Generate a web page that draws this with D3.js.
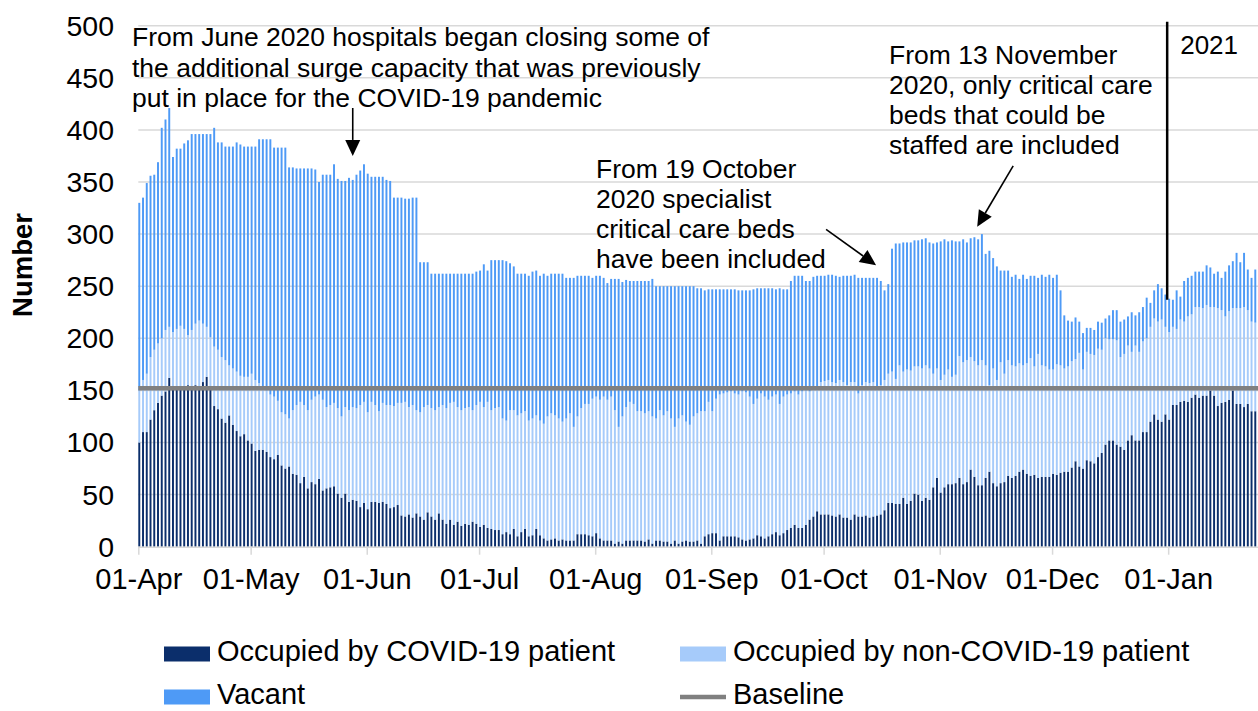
<!DOCTYPE html>
<html><head><meta charset="utf-8">
<script src="https://cdn.jsdelivr.net/npm/d3@7"></script>
<style>
body{margin:0;background:#fff}
text{font-family:"Liberation Sans",Arial,sans-serif;fill:#000}
</style>
</head><body>
<svg id="chart" width="1258" height="711"></svg>
<script>
// ---------------- DATA ----------------
const startDate = new Date(Date.UTC(2020, 3, 1)); // 01-Apr-2020, one bar per day

const covidOccupied = [
100,110,110,122,131,138,145,149,162,152,
153,154,152,155,153,155,154,158,163,151,
135,132,123,119,126,117,111,106,108,102,
99,92,93,93,91,86,84,88,78,75,
77,70,69,61,67,56,62,60,65,54,
56,57,58,51,47,51,43,45,44,38,
42,36,43,43,42,43,41,37,38,40,
30,29,31,28,32,29,26,33,29,26,
32,26,22,26,21,24,20,22,21,24,
22,19,21,18,17,16,16,12,14,12,
17,10,14,17,10,11,17,11,8,6,
7,8,6,7,6,6,6,12,12,12,
11,10,13,8,6,6,6,3,5,3,
6,6,6,6,6,5,7,3,6,6,
5,5,3,6,3,5,6,5,5,6,
3,10,12,13,13,6,10,10,10,10,
9,7,6,7,8,11,10,8,10,12,
14,11,13,16,18,21,18,18,21,26,
29,34,31,31,31,30,29,31,28,28,
26,31,29,29,30,28,29,30,31,35,
42,42,41,41,47,41,44,51,50,44,
47,45,57,66,52,57,60,60,61,66,
60,62,74,67,59,59,66,72,61,58,
61,62,68,66,68,72,74,70,68,69,
66,67,67,67,70,69,71,72,72,76,
82,77,75,83,82,80,86,90,98,102,
102,98,96,93,102,107,102,102,110,110,
120,127,122,120,127,122,136,136,139,140,
139,143,146,143,145,145,150,145,135,138,
139,141,150,137,137,134,137,130,130,138
];

// all occupied beds (COVID + non-COVID)
const allOccupied = [
150,160,166,182,189,195,200,208,211,206,
209,212,209,203,208,214,217,214,211,201,
192,189,182,179,174,171,168,164,163,163,
166,160,157,152,150,146,144,140,129,127,
123,131,136,139,136,131,141,144,146,141,
134,136,138,133,125,134,131,134,133,136,
139,129,139,136,130,138,136,136,135,138,
138,139,134,136,131,129,134,136,133,131,
134,136,133,138,139,134,131,133,134,131,
136,139,134,139,131,133,134,123,121,131,
131,126,128,130,121,123,126,121,118,125,
128,126,123,120,123,128,115,125,133,137,
137,142,144,141,144,141,144,131,115,125,
134,139,137,130,130,128,130,125,123,131,
126,130,123,115,123,126,120,117,125,128,
130,130,139,130,142,146,147,148,149,147,
146,149,148,144,137,142,147,144,141,144,
146,137,144,146,147,149,146,149,150,149,
151,153,158,159,160,158,157,160,158,155,
158,158,147,155,158,157,158,153,155,160,
166,168,161,174,168,170,169,173,173,171,
174,171,166,171,160,165,170,163,165,183,
177,179,182,178,174,179,174,155,171,160,
177,166,179,174,173,176,174,176,181,173,
185,174,173,170,170,175,174,171,173,178,
180,186,170,187,185,184,190,189,200,199,
199,198,182,185,193,187,193,187,197,200,
211,219,216,218,211,206,211,209,218,216,
221,223,230,230,229,232,230,230,229,227,
221,226,229,229,229,230,227,216,215,217
];

// total critical care beds (occupied + vacant)
const totalBeds = [
330,335,349,356,357,369,402,410,421,374,
382,382,387,390,396,396,396,396,396,396,
402,388,388,384,384,384,388,386,384,384,
384,384,391,391,391,391,383,383,383,383,
364,364,363,363,363,363,363,362,350,357,
357,357,367,353,351,351,354,352,357,361,
367,358,355,355,355,355,352,351,335,335,
335,334,334,335,335,273,273,273,262,262,
262,262,262,262,262,262,262,262,262,262,
264,265,271,265,275,275,275,275,274,272,
269,262,262,262,260,264,265,260,262,260,
262,262,262,262,258,258,258,260,260,260,
260,258,260,260,258,253,257,257,257,254,
256,255,255,255,255,255,255,257,250,250,
250,250,250,250,250,250,250,250,250,248,
248,246,247,247,247,247,247,247,247,247,
246,246,246,246,247,248,248,248,248,248,
247,248,247,247,255,260,260,260,255,255,
259,260,260,260,261,261,260,259,260,260,
260,261,258,258,258,258,258,258,255,246,
252,286,291,291,292,292,292,294,294,295,
296,292,291,292,293,295,293,294,293,293,
295,292,296,297,295,300,281,284,277,269,
265,265,265,259,261,257,261,257,260,260,
258,261,259,261,258,261,246,222,217,216,
220,216,205,210,210,208,216,215,219,222,
227,227,216,218,221,225,222,225,230,239,
234,246,252,248,242,238,237,246,240,255,
258,260,264,264,264,270,268,262,264,258,
264,270,274,282,273,282,266,258,266,268
];

const baselineValue = 152;
const yTickValues = [0,50,100,150,200,250,300,350,400,450,500];
const monthTickLabels = ["01-Apr","01-May","01-Jun","01-Jul","01-Aug","01-Sep","01-Oct","01-Nov","01-Dec","01-Jan"];
const seriesKeys = ["covid","nonCovid","vacant"];
const seriesLabels = ["Occupied by COVID-19 patient","Occupied by non-COVID-19 patient","Vacant"];
const seriesColors = ["#0b2e6b","#a6cbfa","#4e9af6"];
const baselineLabel = "Baseline";
const yAxisTitle = "Number";
const yearLabel = "2021";
const annotations = [
  {lines:["From June 2020 hospitals began closing some of","the additional surge capacity that was previously","put in place for the COVID-19 pandemic"]},
  {lines:["From 19 October","2020 specialist","critical care beds","have been included"]},
  {lines:["From 13 November","2020, only critical care","beds that could be","staffed are included"]}
];

// ---------------- CHART ----------------
const N = covidOccupied.length;
const days = d3.utcDay.range(startDate, d3.utcDay.offset(startDate, N));
const rows = days.map((d,i)=>({
  date:d,
  covid:covidOccupied[i],
  nonCovid:allOccupied[i]-covidOccupied[i],
  vacant:totalBeds[i]-allOccupied[i]
}));

const svg = d3.select("#chart");
const left = 138.3, right = 1261.8;
const x = d3.scaleUtc().domain([startDate, d3.utcDay.offset(startDate, N)]).range([left, right]);
const step = (right-left)/N;
const bw = step*0.52;
const y = d3.scaleLinear().domain([0,500]).range([546.7, 25.7]);

// gridlines
svg.append("g").selectAll("line").data(yTickValues.filter(v=>v>0)).join("line")
  .attr("x1",left).attr("x2",1258).attr("y1",d=>y(d)).attr("y2",d=>y(d))
  .attr("stroke","#d9d9d9").attr("stroke-width",1.5);

// y labels
svg.append("g").selectAll("text").data(yTickValues).join("text")
  .attr("x",114).attr("y",d=>y(d)).attr("dy","0.35em").attr("text-anchor","end")
  .style("font-size","28.5px").text(d=>d);

// y title
svg.append("text").attr("transform","translate(32,265) rotate(-90)")
  .attr("text-anchor","middle").style("font-size","27.5px").style("font-weight","bold").text(yAxisTitle);

// stacked bars
const stack = d3.stack().keys(seriesKeys)(rows);
svg.append("g").selectAll("g").data(stack).join("g")
  .attr("fill",(d,i)=>seriesColors[i])
  .selectAll("rect").data(d=>d).join("rect")
  .attr("x",d=>x(d.data.date)).attr("width",bw)
  .attr("y",d=>y(d[1])).attr("height",d=>Math.max(0,y(d[0])-y(d[1])));

// x axis
const monthDates = d3.utcMonth.range(startDate, d3.utcDay.offset(startDate, N));
const xAxis = svg.append("g").attr("transform",`translate(0,${y(0)})`)
  .call(d3.axisBottom(x).tickValues(monthDates).tickFormat((d,i)=>monthTickLabels[i])
    .tickSize(8).tickSizeOuter(0).tickPadding(14));
xAxis.select(".domain").attr("stroke","#d9d9d9").attr("stroke-width",1.5).attr("d",`M${left},0.5H1258`);
xAxis.selectAll(".tick line").attr("stroke","#d9d9d9").attr("stroke-width",1.5);
xAxis.selectAll(".tick text").style("font-size","29px").style("font-family","'Liberation Sans',Arial,sans-serif").attr("fill","#000");

// baseline
svg.append("line").attr("x1",left).attr("x2",1258)
  .attr("y1",y(baselineValue)).attr("y2",y(baselineValue))
  .attr("stroke","#808080").attr("stroke-width",4.5);

// year separator
const jan1 = new Date(Date.UTC(2021,0,1));
svg.append("line").attr("x1",x(jan1)-1).attr("x2",x(jan1)-1).attr("y1",y(500)-4).attr("y2",y(237))
  .attr("stroke","#000").attr("stroke-width",2.5);
svg.append("text").attr("x",x(jan1)+12).attr("y",54).style("font-size","26px").text(yearLabel);

// annotations
function addText(lines, x0, y0, lh){
  const t = svg.append("text").style("font-size","26.5px");
  lines.forEach((l,i)=>t.append("tspan").attr("x",x0).attr("y",y0+i*lh).text(l));
}
function arrow(x1,y1,x2,y2){
  const a = Math.atan2(y2-y1,x2-x1), L=16, W=7.5;
  const bx = x2-L*Math.cos(a), by = y2-L*Math.sin(a);
  svg.append("line").attr("x1",x1).attr("y1",y1).attr("x2",bx).attr("y2",by)
    .attr("stroke","#000").attr("stroke-width",1.6);
  svg.append("path").attr("fill","#000").attr("d",
    `M${x2},${y2}L${bx+W*Math.sin(a)},${by-W*Math.cos(a)}L${bx-W*Math.sin(a)},${by+W*Math.cos(a)}Z`);
}
addText(annotations[0].lines, 132, 46, 30.5);
addText(annotations[1].lines, 596, 178, 30);
addText(annotations[2].lines, 889, 64, 30);

const d57 = d3.utcDay.offset(startDate,57), d197 = d3.utcDay.offset(startDate,197), d224 = d3.utcDay.offset(startDate,224);
arrow(x(d57)+bw/2, 108, x(d57)+bw/2, y(375));
arrow(x(d197)-50, y(270)-36, x(d197), y(270));
arrow(x(d224)+36, y(307)-61, x(d224), y(307));

// legend
const legendItems = [
  {label:seriesLabels[0], color:seriesColors[0], type:"rect", lx:164, ly:654},
  {label:seriesLabels[1], color:seriesColors[1], type:"rect", lx:680, ly:654},
  {label:seriesLabels[2], color:seriesColors[2], type:"rect", lx:164, ly:697},
  {label:baselineLabel, color:"#808080", type:"line", lx:680, ly:697}
];
const lg = svg.append("g").selectAll("g").data(legendItems).join("g")
  .attr("transform",d=>`translate(${d.lx},${d.ly})`);
lg.filter(d=>d.type==="rect").append("rect").attr("x",0).attr("y",-7.5).attr("width",46).attr("height",15).attr("fill",d=>d.color);
lg.filter(d=>d.type==="line").append("line").attr("x1",0).attr("x2",46).attr("y1",0).attr("y2",0).attr("stroke",d=>d.color).attr("stroke-width",4.5);
lg.append("text").attr("x",53).attr("dy","0.25em").style("font-size","29px").text(d=>d.label);
</script>
</body></html>
